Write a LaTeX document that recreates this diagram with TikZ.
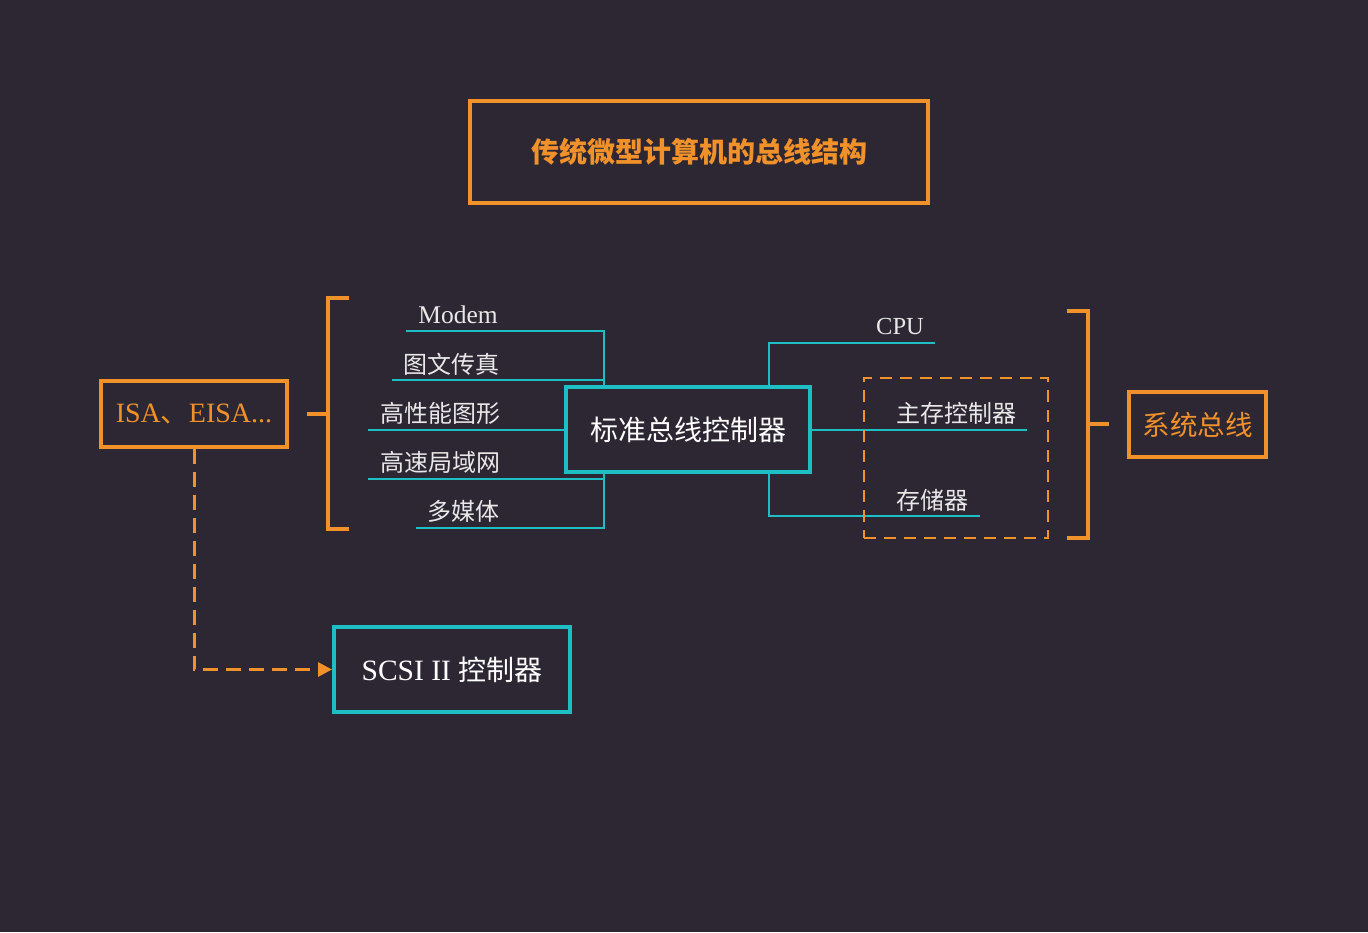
\documentclass[tikz,border=0pt]{standalone}
\usepackage{fontspec}
\setmainfont{Liberation Serif}
\newfontfamily\cjk{Noto Sans CJK SC}
\usetikzlibrary{calc,arrows.meta}
\definecolor{bg}{HTML}{2D2733}
\definecolor{org}{HTML}{F0912A}
\definecolor{tel}{HTML}{1DBEC4}
\definecolor{lbl}{HTML}{E8E8E8}
\tikzset{
  obox/.style={draw=org,line width=3.5pt,inner sep=0pt},
  tbox/.style={draw=tel,line width=4pt,inner sep=0pt},
  lab/.style={text=lbl,inner sep=0pt,font=\cjk\fontsize{24}{28}\selectfont},
  serlab/.style={text=lbl,inner sep=0pt,font=\fontsize{25.5}{28}\selectfont},
  tline/.style={draw=tel,line width=2pt},
  brk/.style={draw=org,line width=3.5pt},
  dashbox/.style={draw=org,line width=2pt,dash pattern=on 12pt off 8pt},
  darrow/.style={draw=org,line width=3pt,dash pattern=on 15pt off 8pt,-{Triangle[length=14pt,width=14pt]}},
}
\begin{document}
\begin{tikzpicture}[x=1pt,y=-1pt]
\fill[bg] (0,0) rectangle (1368,932);
\useasboundingbox (0,0) rectangle (1368,932);

% boxes
\node[obox,minimum width=458pt,minimum height=102pt,text=org,font=\cjk\bfseries\fontsize{28}{32}\selectfont] (title) at (699,152) {传统微型计算机的总线结构};
\node[obox,minimum width=186pt,minimum height=66pt,text=org,font=\fontsize{28}{30}\selectfont] (isa) at (194,414) {ISA{\cjk 、}EISA...};
\node[tbox,minimum width=244pt,minimum height=85pt,text=white,font=\cjk\fontsize{28}{32}\selectfont] (ctrl) at (688,429.5) {标准总线控制器};
\node[obox,minimum width=137pt,minimum height=65pt,text=org,font=\cjk\fontsize{27.5}{30}\selectfont] (sys) at (1197.5,424.5) {系统总线};
\node[tbox,minimum width=236pt,minimum height=85pt,text=white,font=\fontsize{29.5}{32}\selectfont] (scsi) at (452,669.5) {SCSI II {\cjk\fontsize{28}{32}\selectfont 控制器}};

% left labels
\node[serlab] (modem) at (458,315) {Modem};
\node[lab] (fax) at (451,364) {图文传真};
\node[lab] (gfx) at (440,413) {高性能图形};
\node[lab] (lan) at (440,462) {高速局域网};
\node[lab] (mm) at (463,511) {多媒体};

% right labels
\node[serlab,font=\fontsize{24.5}{28}\selectfont] (cpu) at (900,327) {CPU};
\node[lab] (mc) at (956,413) {主存控制器};
\node[lab] (mem) at (932,500) {存储器};

% free ends of underlines
\coordinate (mE) at (406,331);
\coordinate (fE) at (392,380);
\coordinate (gE) at (368,430);
\coordinate (lE) at (368,479);
\coordinate (mmE) at (416,528);
\coordinate (cpuE) at (935,343);
\coordinate (mcE) at (1027,430);
\coordinate (memE) at (980,516);
\coordinate (jL) at ($(ctrl.north west)+(40,0)$);
\coordinate (jLb) at ($(ctrl.south west)+(40,0)$);
\coordinate (jR) at ($(ctrl.north west)+(205,0)$);
\coordinate (jRb) at ($(ctrl.south west)+(205,0)$);

\draw[tline] (mE) -| (jL);
\draw[tline] (fE) -- (fE -| jL);
\draw[tline] (gE) -- (gE -| ctrl.west);
\draw[tline] (lE) -| (jLb);
\draw[tline] (mmE) -| (jLb);
\draw[tline] (jR) |- (cpuE);
\draw[tline] (mcE -| ctrl.east) -- (mcE);
\draw[tline] (jRb) |- (memE);

% dashed group
\node[dashbox,minimum width=184pt,minimum height=160pt,inner sep=0pt] (grp) at (956,458) {};

% brackets
\coordinate (lbt) at (349,298);
\coordinate (lbb) at (349,529);
\coordinate (lbm) at (307,414);
\draw[brk] (lbt) -- (328,298) -- (328,529) -- (lbb);
\draw[brk] (lbm) -- (328,414);
\coordinate (rbt) at (1067,311);
\coordinate (rbb) at (1067,538);
\coordinate (rbm) at (1109,424);
\draw[brk] (rbt) -- (1088,311) -- (1088,538) -- (rbb);
\draw[brk] (rbm) -- (1088,424);

% dashed arrow
\draw[darrow] (isa.south) |- (scsi.west);
\end{tikzpicture}
\end{document}
